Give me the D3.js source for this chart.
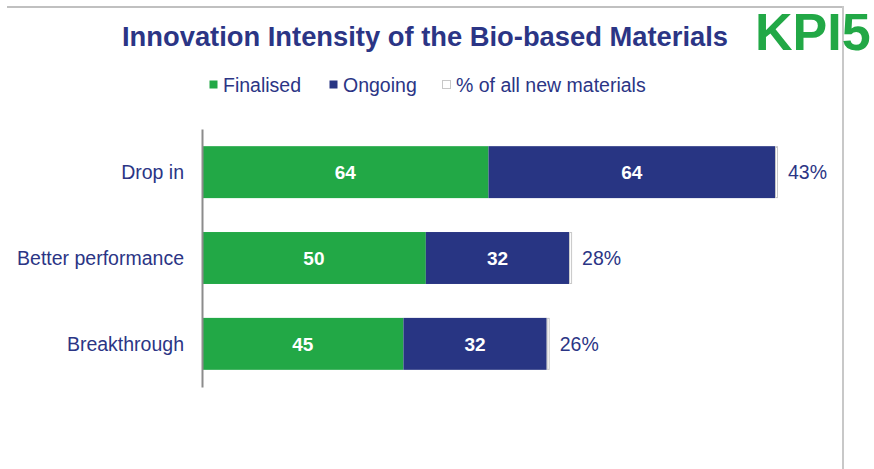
<!DOCTYPE html>
<html>
<head>
<meta charset="utf-8">
<script src="https://cdn.jsdelivr.net/npm/d3@7"></script>
<style>
  html, body { margin: 0; padding: 0; background: #fff; }
  svg { display: block; font-family: "Liberation Sans", Arial, sans-serif; }
</style>
</head>
<body>
<svg id="chart" width="874" height="469"></svg>
<script>
const categories = ["Drop in", "Better performance", "Breakthrough"];
const finalised = [64, 50, 45];
const ongoing = [64, 32, 32];
const pctOfAll = ["43%", "28%", "26%"];
const seriesNames = ["Finalised", "Ongoing", "% of all new materials"];

const GREEN = "#22A846";
const NAVY = "#283583";
const TEXT = "#2B3585";

const svg = d3.select("#chart");

// frame lines
svg.append("line").attr("x1", 7).attr("x2", 843).attr("y1", 7).attr("y2", 7)
  .attr("stroke", "#c0c0c0").attr("stroke-width", 2);
svg.append("line").attr("x1", 843).attr("x2", 843).attr("y1", 6).attr("y2", 469)
  .attr("stroke", "#c8c8c8").attr("stroke-width", 2);

// title
svg.append("text").attr("x", 122).attr("y", 46)
  .attr("font-size", 27).attr("font-weight", "bold").attr("fill", TEXT)
  .attr("textLength", 606).attr("lengthAdjust", "spacingAndGlyphs")
  .text("Innovation Intensity of the Bio-based Materials");

svg.append("text").attr("x", 755).attr("y", 50)
  .attr("font-size", 52).attr("font-weight", "bold").attr("fill", GREEN)
  .text("KPI5");

// scales
const x = d3.scaleLinear().domain([0, 128]).range([202, 775]);
const y = d3.scaleBand().domain(categories).range([129, 387]).paddingInner(0.395).paddingOuter(0.2);

const rows = categories.map((c, i) => ({ c, f: finalised[i], o: ongoing[i], p: pctOfAll[i] }));

// bars
const g = svg.append("g");
g.selectAll(".fin").data(rows).join("rect")
  .attr("x", x(0)).attr("y", d => y(d.c))
  .attr("width", d => x(d.f) - x(0)).attr("height", y.bandwidth())
  .attr("fill", GREEN);
g.selectAll(".ong").data(rows).join("rect")
  .attr("x", d => x(d.f)).attr("y", d => y(d.c))
  .attr("width", d => x(d.f + d.o) - x(d.f)).attr("height", y.bandwidth())
  .attr("fill", NAVY);
// percent stub (white bar with light outline)
g.selectAll(".pct").data(rows).join("rect")
  .attr("x", d => x(d.f + d.o) + 0.5).attr("y", d => y(d.c) + 0.5)
  .attr("width", 2).attr("height", y.bandwidth() - 1)
  .attr("fill", "#fff").attr("stroke", "#c8c8c8").attr("stroke-width", 1);

// value labels
g.selectAll(".vf").data(rows).join("text")
  .attr("x", d => (x(0) + x(d.f)) / 2).attr("y", d => y(d.c) + y.bandwidth() / 2 + 7)
  .attr("text-anchor", "middle").attr("font-size", 19).attr("font-weight", "bold")
  .attr("fill", "#fff").text(d => d.f);
g.selectAll(".vo").data(rows).join("text")
  .attr("x", d => (x(d.f) + x(d.f + d.o)) / 2).attr("y", d => y(d.c) + y.bandwidth() / 2 + 7)
  .attr("text-anchor", "middle").attr("font-size", 19).attr("font-weight", "bold")
  .attr("fill", "#fff").text(d => d.o);
g.selectAll(".vp").data(rows).join("text")
  .attr("x", d => x(d.f + d.o) + 13).attr("y", d => y(d.c) + y.bandwidth() / 2 + 7)
  .attr("font-size", 19.5).attr("fill", TEXT).text(d => d.p);

// y axis
const yAxis = svg.append("g").attr("transform", "translate(202,0)")
  .call(d3.axisLeft(y).tickSize(0).tickPadding(18));
yAxis.select(".domain").attr("stroke", "#8c8c8c").attr("stroke-width", 2);
yAxis.selectAll("text").attr("font-size", 19.5).attr("fill", TEXT)
  .attr("font-family", "'Liberation Sans', Arial, sans-serif").attr("dy", "0.35em");

// legend
const legendItems = [
  { name: seriesNames[0], fill: GREEN, stroke: "none", x: 209 },
  { name: seriesNames[1], fill: NAVY, stroke: "none", x: 329 },
  { name: seriesNames[2], fill: "#fff", stroke: "#c8c8c8", x: 442 }
];
const lg = svg.append("g");
const li = lg.selectAll("g").data(legendItems).join("g")
  .attr("transform", d => `translate(${d.x},0)`);
li.append("rect").attr("x", 0.5).attr("y", 80.5).attr("width", 8).attr("height", 8)
  .attr("fill", d => d.fill).attr("stroke", d => d.stroke);
li.append("text").attr("x", 14).attr("y", 92).attr("font-size", 19.5).attr("fill", TEXT)
  .text(d => d.name);
</script>
</body>
</html>
